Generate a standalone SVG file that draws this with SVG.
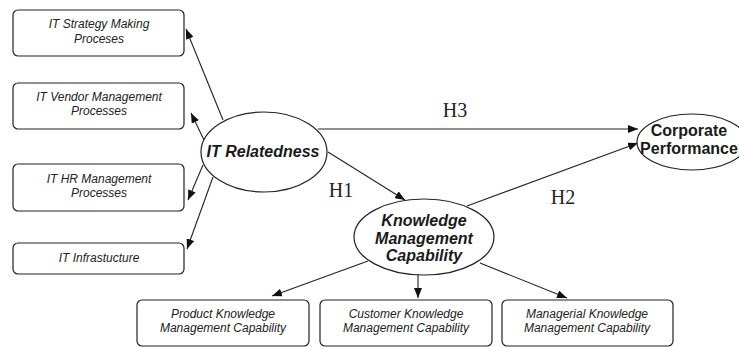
<svg xmlns="http://www.w3.org/2000/svg" width="739" height="347" viewBox="0 0 739 347">
  <defs>
    <marker id="arrow" viewBox="0 0 10 8" refX="10" refY="4" markerWidth="10" markerHeight="8" markerUnits="userSpaceOnUse" orient="auto">
      <path d="M0,0 L10,4 L0,8 Z" fill="#111"/>
    </marker>
    <style>
      .box { fill: #fff; stroke: #222; stroke-width: 1.2; }
      .oval { fill: #fff; stroke: #222; stroke-width: 1.2; }
      .boxtxt { font-family: "Liberation Sans", Arial, sans-serif; font-style: italic; font-size: 12px; fill: #222; text-anchor: middle; }
      .ovaltxt { font-family: "Liberation Sans", Arial, sans-serif; font-style: italic; font-weight: bold; font-size: 16px; fill: #1a1a1a; text-anchor: middle; }
      .cptxt { font-family: "Liberation Sans", Arial, sans-serif; font-weight: bold; font-size: 16px; fill: #1a1a1a; text-anchor: middle; }
      .hyp { font-family: "Liberation Serif", "Times New Roman", serif; font-size: 20px; fill: #222; text-anchor: middle; }
      .conn { fill: none; stroke: #222; stroke-width: 1.1; marker-end: url(#arrow); }
    </style>
  </defs>
  <rect width="739" height="347" fill="#fff"/>

  <g id="connectors">
    <line class="conn" x1="223" y1="120" x2="186" y2="29"/>
    <line class="conn" x1="204" y1="140" x2="191" y2="113"/>
    <line class="conn" x1="203" y1="165" x2="188" y2="200"/>
    <line class="conn" x1="213" y1="177" x2="187" y2="249"/>
    <line class="conn" x1="318" y1="129" x2="638" y2="129"/>
    <line class="conn" x1="467" y1="206" x2="638" y2="143"/>
    <line class="conn" x1="328" y1="152" x2="405" y2="200"/>
    <line class="conn" x1="368" y1="261" x2="272" y2="296"/>
    <line class="conn" x1="418" y1="274" x2="418" y2="298"/>
    <line class="conn" x1="480" y1="263" x2="567" y2="298"/>
    <text class="hyp" x="455" y="117">H3</text>
    <text class="hyp" x="341" y="197">H1</text>
    <text class="hyp" x="563" y="204">H2</text>
  </g>

  <g id="it-strategy">
    <rect class="box" x="13" y="10" width="171" height="46" rx="5"/>
    <text class="boxtxt" x="99" y="28">IT Strategy Making</text>
    <text class="boxtxt" x="99" y="43">Proceses</text>
  </g>
  <g id="it-vendor">
    <rect class="box" x="13" y="83" width="171" height="46" rx="5"/>
    <text class="boxtxt" x="99" y="101">IT Vendor Management</text>
    <text class="boxtxt" x="99" y="115">Processes</text>
  </g>
  <g id="it-hr">
    <rect class="box" x="13" y="164" width="171" height="47" rx="5"/>
    <text class="boxtxt" x="99" y="183">IT HR Management</text>
    <text class="boxtxt" x="99" y="197">Processes</text>
  </g>
  <g id="it-infra">
    <rect class="box" x="13" y="243" width="171" height="31" rx="5"/>
    <text class="boxtxt" x="99" y="262">IT Infrastucture</text>
  </g>

  <g id="it-relatedness">
    <ellipse class="oval" cx="264" cy="152" rx="63" ry="40"/>
    <text class="ovaltxt" x="263" y="157">IT Relatedness</text>
  </g>

  <g id="corporate-performance">
    <ellipse class="oval" cx="692" cy="142" rx="55" ry="28"/>
    <text class="cptxt" x="689" y="136">Corporate</text>
    <text class="cptxt" x="689" y="154">Performance</text>
  </g>

  <g id="km-capability">
    <ellipse class="oval" cx="424" cy="237" rx="70" ry="38"/>
    <text class="ovaltxt" x="424" y="226">Knowledge</text>
    <text class="ovaltxt" x="424" y="244">Management</text>
    <text class="ovaltxt" x="424" y="261">Capability</text>
  </g>

  <g id="product-km">
    <rect class="box" x="137" y="300" width="172" height="46" rx="5"/>
    <text class="boxtxt" x="223" y="318">Product Knowledge</text>
    <text class="boxtxt" x="223" y="332">Management Capability</text>
  </g>
  <g id="customer-km">
    <rect class="box" x="320" y="300" width="172" height="46" rx="5"/>
    <text class="boxtxt" x="406" y="318">Customer Knowledge</text>
    <text class="boxtxt" x="406" y="332">Management Capability</text>
  </g>
  <g id="managerial-km">
    <rect class="box" x="502" y="300" width="171" height="46" rx="5"/>
    <text class="boxtxt" x="587" y="318">Managerial Knowledge</text>
    <text class="boxtxt" x="587" y="332">Management Capability</text>
  </g>
</svg>
